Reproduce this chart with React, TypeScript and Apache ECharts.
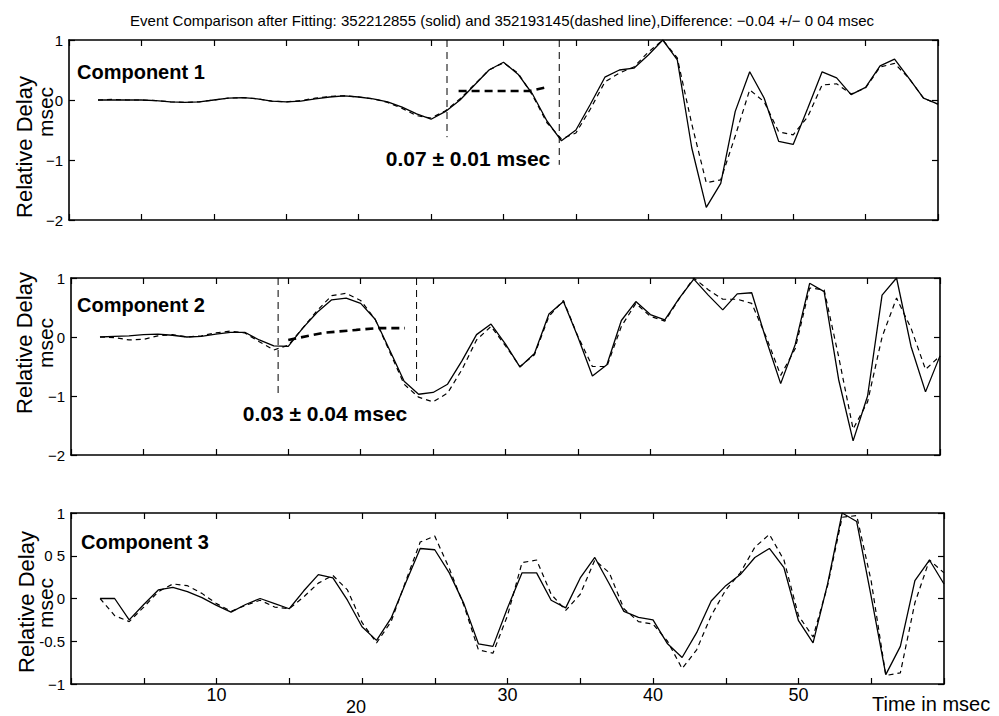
import React, { useEffect, useRef } from "react";
import * as echarts from "echarts";

// ---------- data ----------
const time = [2, 3, 4, 5, 6, 7, 8, 9, 10, 11, 12, 13, 14, 15, 16, 17, 18, 19, 20, 21, 22, 23, 24, 25, 26, 27, 28, 29, 30, 31, 32, 33, 34, 35, 36, 37, 38, 39, 40, 41, 42, 43, 44, 45, 46, 47, 48, 49, 50, 51, 52, 53, 54, 55, 56, 57, 58, 59, 60];

const comp1Solid = [0, 0, 0, 0, -0.01, -0.03, -0.04, -0.03, 0.0, 0.03, 0.04, 0.02, -0.02, -0.03, -0.02, 0.02, 0.05, 0.07, 0.05, 0.02, -0.03, -0.12, -0.23, -0.32, -0.19, 0.0, 0.25, 0.5, 0.63, 0.43, 0.1, -0.35, -0.68, -0.5, -0.07, 0.38, 0.5, 0.53, 0.75, 1.0, 0.67, -0.8, -1.79, -1.39, -0.19, 0.47, 0.03, -0.69, -0.74, -0.14, 0.47, 0.37, 0.09, 0.21, 0.57, 0.68, 0.36, 0.03, -0.07];
const comp1Dashed = [0, 0.01, 0, 0, -0.01, -0.03, -0.04, -0.03, 0, 0.03, 0.04, 0.02, -0.02, -0.03, -0.01, 0.03, 0.06, 0.07, 0.05, 0.02, -0.04, -0.14, -0.26, -0.3, -0.18, 0.02, 0.26, 0.5, 0.62, 0.45, 0.08, -0.38, -0.65, -0.55, -0.15, 0.3, 0.45, 0.55, 0.8, 1.0, 0.7, -0.4, -1.38, -1.33, -0.6, 0.17, -0.03, -0.53, -0.58, -0.28, 0.25, 0.27, 0.1, 0.2, 0.55, 0.61, 0.36, 0.03, -0.07];

const comp2Solid = [0, 0.01, 0.02, 0.04, 0.05, 0.03, 0.0, 0.01, 0.05, 0.08, 0.08, -0.05, -0.15, -0.16, 0.15, 0.42, 0.63, 0.66, 0.57, 0.3, -0.22, -0.75, -0.97, -0.94, -0.8, -0.4, 0.04, 0.22, -0.12, -0.51, -0.28, 0.39, 0.6, 0.0, -0.66, -0.47, 0.28, 0.6, 0.38, 0.29, 0.66, 0.98, 0.71, 0.46, 0.73, 0.75, -0.05, -0.79, -0.13, 0.91, 0.77, -0.72, -1.76, -1.0, 0.71, 1.0, -0.16, -0.93, -0.32];
const comp2Dashed = [0, -0.01, -0.05, -0.04, 0.02, 0.04, 0.0, 0.02, 0.07, 0.1, 0.07, -0.08, -0.22, -0.14, 0.15, 0.45, 0.7, 0.74, 0.62, 0.3, -0.25, -0.8, -1.02, -1.1, -0.95, -0.55, -0.05, 0.18, -0.15, -0.5, -0.3, 0.35, 0.62, 0.01, -0.5, -0.5, 0.18, 0.57, 0.35, 0.27, 0.65, 1.0, 0.8, 0.64, 0.64, 0.57, 0.0, -0.65, -0.2, 0.83, 0.8, -0.33, -1.56, -1.1, 0.0, 0.66, 0.15, -0.55, -0.32];

const comp3Solid = [0, 0, -0.25, -0.07, 0.1, 0.13, 0.08, 0.01, -0.08, -0.16, -0.07, 0.0, -0.06, -0.12, 0.09, 0.28, 0.24, -0.02, -0.33, -0.49, -0.23, 0.18, 0.585, 0.57, 0.3, -0.06, -0.53, -0.56, -0.11, 0.3, 0.3, -0.02, -0.11, 0.24, 0.48, 0.17, -0.15, -0.22, -0.25, -0.53, -0.69, -0.4, -0.03, 0.15, 0.28, 0.48, 0.585, 0.36, -0.26, -0.52, 0.17, 1.0, 0.9, 0.02, -0.89, -0.56, 0.21, 0.45, 0.17];
const comp3Dashed = [0, -0.2, -0.27, -0.1, 0.08, 0.17, 0.15, 0.06, -0.06, -0.15, -0.08, -0.02, -0.1, -0.12, 0.02, 0.18, 0.27, 0.1, -0.28, -0.52, -0.27, 0.2, 0.66, 0.73, 0.35, -0.08, -0.6, -0.64, -0.2, 0.42, 0.45, 0.05, -0.14, 0.05, 0.45, 0.3, -0.12, -0.27, -0.3, -0.5, -0.82, -0.6, -0.2, 0.1, 0.3, 0.6, 0.75, 0.45, -0.2, -0.45, 0.15, 0.95, 0.97, 0.2, -0.9, -0.87, -0.05, 0.45, 0.3];

// annotation markers: [time, top, bottom]
const comp1Markers = [[26.1, 1, -0.62], [33.85, 1, -1.08]];
const comp1Shift = [[26.9, 0.15], [31.8, 0.15], [32.9, 0.21]];
const comp2Markers = [[14.3, 1, -1.0], [23.86, 1, -0.78]];
const comp2Shift = [[15.0, -0.05], [17.4, 0.07], [19.7, 0.12], [21.1, 0.15], [23.06, 0.15]];

const componentLabels = ["Component 1", "Component 2", "Component 3"];
const shiftLabels = ["0.07 \u00b1 0.01 msec", "0.03 \u00b1 0.04 msec"];
const titleText = "Event Comparison after Fitting: 352212855 (solid) and 352193145(dashed line),Difference: \u22120.04 +/\u2212 0 04 msec";
const xTickLabels = [10, 20, 30, 40, 50];

const FONT = "Liberation Sans, Arial, Helvetica, sans-serif";

export default function App() {
  const ref = useRef<HTMLDivElement>(null);

  useEffect(() => {
    if (!ref.current) return;
    const chart = echarts.init(ref.current, undefined, { renderer: "svg" });

    const grids = [
      { left: 69, right: 61, top: 40, height: 180 },
      { left: 71, right: 59, top: 278, height: 177 },
      { left: 71, right: 55, top: 513, height: 176 },
    ];

    const axisLine = { show: true, onZero: false, lineStyle: { color: "#000", width: 1.6 } };
    const tick = { show: true, inside: true, length: 6, lineStyle: { color: "#000", width: 1.2 } };

    const xAxes: any[] = [];
    const yAxes: any[] = [];
    grids.forEach((g, gi) => {
      const isBottom = gi === 2;
      xAxes.push({
        type: "value", gridIndex: gi, position: "bottom", min: 0, max: 60, interval: 5,
        axisLine, axisTick: tick, splitLine: { show: false },
        axisLabel: isBottom
          ? {
              show: true, margin: 2, color: "#000", fontFamily: FONT, fontSize: 18,
              formatter: (v: number) => {
                if (xTickLabels.indexOf(v) < 0) return "";
                return v === 20 ? "{low|20}" : String(v);
              },
              rich: { low: { fontFamily: FONT, fontSize: 18, color: "#000", padding: [12, 12, 0, 0] } },
            }
          : { show: false },
      });
      xAxes.push({
        type: "value", gridIndex: gi, position: "top", min: 0, max: 60, interval: 5,
        axisLine, axisTick: tick, splitLine: { show: false }, axisLabel: { show: false },
      });
      const y3 = gi === 2;
      yAxes.push({
        type: "value", gridIndex: gi, position: "left",
        min: y3 ? -1 : -2, max: 1, interval: y3 ? 0.5 : 1,
        axisLine, axisTick: tick, splitLine: { show: false },
        axisLabel: {
          show: true, margin: 6, color: "#000", fontFamily: FONT, fontSize: 15,
          formatter: (v: number) => {
            if (y3) {
              if (v === 0.5) return "0 5";
              if (v === -0.5) return "-0.5";
              if (v === -1) return "\u22121";
              return String(v);
            }
            return v < 0 ? "\u2212" + Math.abs(v) : String(v);
          },
        },
      });
      yAxes.push({
        type: "value", gridIndex: gi, position: "right",
        min: y3 ? -1 : -2, max: 1, interval: y3 ? 0.5 : 1,
        axisLine, axisTick: tick, splitLine: { show: false }, axisLabel: { show: false },
      });
    });

    const pairs = (vals: number[]) => time.map((t, i) => [t, vals[i]]);
    const solid = (vals: number[], gi: number) => ({
      type: "line", xAxisIndex: gi * 2, yAxisIndex: gi * 2, data: pairs(vals),
      showSymbol: false, symbol: "none", silent: true,
      lineStyle: { color: "#000", width: 1.3 }, z: 3,
    });
    const dashed = (vals: number[], gi: number) => ({
      type: "line", xAxisIndex: gi * 2, yAxisIndex: gi * 2, data: pairs(vals),
      showSymbol: false, symbol: "none", silent: true,
      lineStyle: { color: "#000", width: 1.2, type: [5, 4] }, z: 2,
    });
    const vline = (m: number[], gi: number) => ({
      type: "line", xAxisIndex: gi * 2, yAxisIndex: gi * 2,
      data: [[m[0], m[1]], [m[0], m[2]]],
      showSymbol: false, symbol: "none", silent: true,
      lineStyle: { color: "#000", width: 1, type: [7, 5] }, z: 1,
    });
    const shift = (pts: number[][], gi: number) => ({
      type: "line", xAxisIndex: gi * 2, yAxisIndex: gi * 2, data: pts,
      showSymbol: false, symbol: "none", silent: true,
      lineStyle: { color: "#000", width: 2.6, type: [8, 5] }, z: 4,
    });

    const series: any[] = [
      solid(comp1Solid, 0), dashed(comp1Dashed, 0),
      solid(comp2Solid, 1), dashed(comp2Dashed, 1),
      solid(comp3Solid, 2), dashed(comp3Dashed, 2),
      ...comp1Markers.map((m) => vline(m, 0)),
      ...comp2Markers.map((m) => vline(m, 1)),
      shift(comp1Shift, 0), shift(comp2Shift, 1),
    ];

    const labelText = (text: string, x: number, y: number, size: number, bold: boolean, align = "left") => ({
      type: "text", x, y,
      style: { text, fill: "#000", font: `${bold ? "bold " : ""}${size}px ${FONT}`, textAlign: align, textVerticalAlign: "middle" },
      z: 10,
    });
    const rotText = (text: string, x: number, y: number, size: number) => ({
      type: "text", x, y, rotation: Math.PI / 2,
      style: { text, fill: "#000", font: `${size}px ${FONT}`, textAlign: "center", textVerticalAlign: "middle" },
      z: 10,
    });

    const graphic: any[] = [
      labelText(titleText, 502, 20, 15, false, "center"),
      labelText(componentLabels[0], 77, 72, 20, true),
      labelText(componentLabels[1], 77, 305, 20, true),
      labelText(componentLabels[2], 81, 542, 20, true),
      labelText(shiftLabels[0], 468, 158, 21, true, "center"),
      labelText(shiftLabels[1], 325, 413, 21, true, "center"),
      labelText("Time in msec", 872, 704, 20, false),
      rotText("Relative Delay", 24, 147, 22),
      rotText("msec", 45, 112, 21),
      rotText("Relative Delay", 24, 343, 22),
      rotText("msec", 45, 343, 21),
      rotText("Relative Delay", 26, 602, 22),
      rotText("msec", 45, 603, 21),
    ];

    chart.setOption({
      animation: false,
      backgroundColor: "#fff",
      grid: grids,
      xAxis: xAxes,
      yAxis: yAxes,
      series,
      graphic,
    });

    return () => chart.dispose();
  }, []);

  return <div ref={ref} style={{ position: "fixed", left: 0, top: 0, width: 999, height: 716, background: "#fff" }} />;
}
